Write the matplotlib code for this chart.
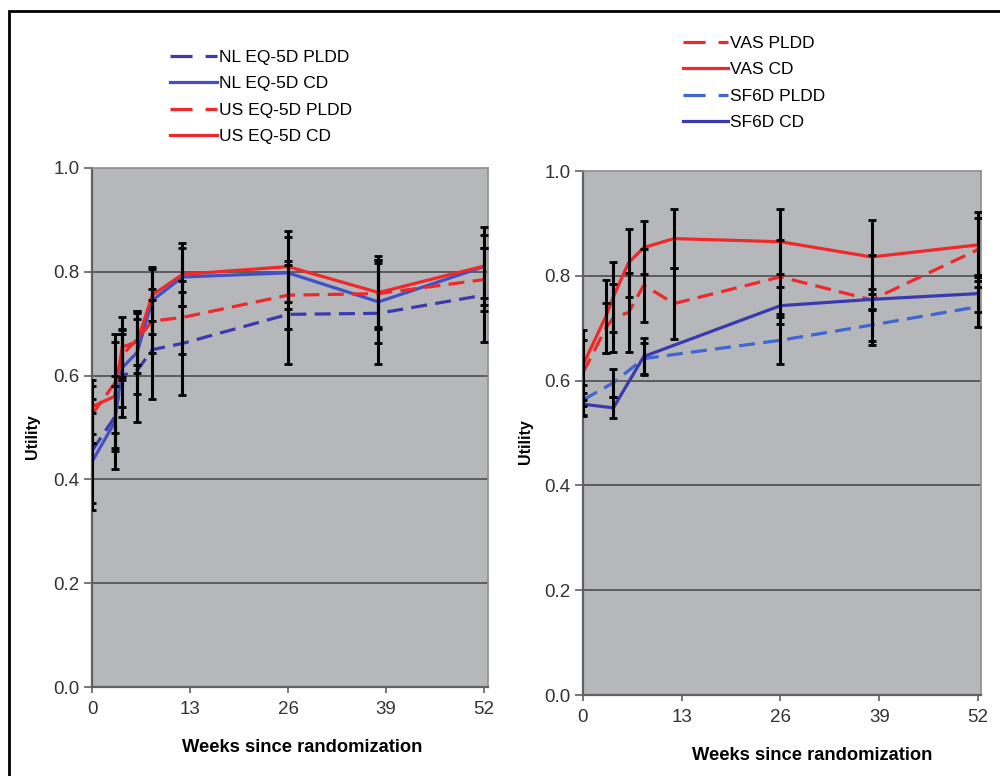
import matplotlib
matplotlib.use("Agg")
import matplotlib.pyplot as plt
from matplotlib.lines import Line2D
from matplotlib.patches import Rectangle

plt.rcParams["font.family"] = ["Liberation Sans", "DejaVu Sans"]

# weeks since randomization
weeks = [0, 3, 4, 6, 8, 12, 26, 38, 52]
sf6d_weeks = [0, 4, 8, 26, 38, 52]

# left panel: EQ-5D (NL / US tariffs)
nl_pldd = [0.455, 0.52, 0.60, 0.61, 0.65, 0.662, 0.718, 0.72, 0.755]
nl_pldd_err = [0.10, 0.06, 0.08, 0.10, 0.095, 0.10, 0.095, 0.097, 0.09]
nl_cd = [0.434, 0.51, 0.615, 0.645, 0.745, 0.79, 0.798, 0.742, 0.81]
nl_cd_err = [0.093, 0.09, 0.075, 0.08, 0.065, 0.055, 0.07, 0.08, 0.06]
us_pldd = [0.525, 0.585, 0.64, 0.67, 0.705, 0.712, 0.755, 0.758, 0.785]
us_pldd_err = [0.055, 0.095, 0.048, 0.05, 0.062, 0.07, 0.065, 0.065, 0.06]
us_cd = [0.54, 0.56, 0.655, 0.665, 0.755, 0.795, 0.81, 0.76, 0.811]
us_cd_err = [0.052, 0.105, 0.058, 0.06, 0.05, 0.06, 0.068, 0.07, 0.075]

# right panel: VAS and SF6D
vas_pldd = [0.615, 0.70, 0.72, 0.73, 0.782, 0.747, 0.798, 0.754, 0.85]
vas_pldd_err = [0.063, 0.048, 0.065, 0.075, 0.07, 0.068, 0.07, 0.086, 0.06]
vas_cd = [0.63, 0.722, 0.76, 0.825, 0.854, 0.871, 0.865, 0.836, 0.859]
vas_cd_err = [0.067, 0.07, 0.067, 0.065, 0.051, 0.056, 0.062, 0.07, 0.062]
sf6d_pldd = [0.563, 0.596, 0.642, 0.677, 0.706, 0.741]
sf6d_pldd_err = [0.028, 0.027, 0.03, 0.045, 0.03, 0.038]
sf6d_cd = [0.555, 0.548, 0.646, 0.743, 0.755, 0.766]
sf6d_cd_err = [0.022, 0.02, 0.035, 0.035, 0.02, 0.035]

xticks = [0, 13, 26, 39, 52]
yticks = [0.0, 0.2, 0.4, 0.6, 0.8, 1.0]

RED = "#f0282a"
BLUE = "#4150c4"
DBLUE = "#3a3aae"
LBLUE = "#3f66d2"
BG = "#b5b7ba"
LW = 2.3
DASH = (5.0, 2.6)


def style_axes(ax, xmax):
    ax.set_facecolor(BG)
    ax.set_xlim(0, xmax)
    ax.set_ylim(0, 1.0)
    ax.set_xticks(xticks)
    ax.set_yticks(yticks)
    ax.set_yticklabels([f"{v:.1f}" for v in yticks])
    for v in yticks[1:-1]:
        ax.axhline(v, color="#5c5c5c", lw=1.4, zorder=1)
    for s in ["top", "right"]:
        ax.spines[s].set_color("#8e8e8e")
        ax.spines[s].set_linewidth(1.2)
    for s in ["left", "bottom"]:
        ax.spines[s].set_color("#606060")
        ax.spines[s].set_linewidth(1.6)
    ax.tick_params(axis="y", length=6, width=1.2, color="#606060",
                   labelsize=13.5, labelcolor="#333333", pad=3)
    ax.tick_params(axis="x", length=4, width=1.2, color="#606060",
                   labelsize=13.5, labelcolor="#333333", pad=6)


def series(ax, x, y, err, color, dashed):
    ax.errorbar(x, y, yerr=err, fmt="none", ecolor="black", elinewidth=2.2,
                capsize=2.6, capthick=2.0, zorder=4)
    ln, = ax.plot(x, y, color=color, lw=LW, zorder=3)
    if dashed:
        ln.set_dashes(DASH)


fig = plt.figure(figsize=(10, 7.76), dpi=100)

# outer frame
fig.patches.append(Rectangle((0.009, -0.05), 1.2, 1.05 - 11 / 776,
                             transform=fig.transFigure, fill=False,
                             edgecolor="black", lw=2.0))

ax1 = fig.add_axes([0.092, 1 - 687 / 776, 0.396, 519 / 776])
ax2 = fig.add_axes([0.583, 1 - 695 / 776, 0.398, 524 / 776])

style_axes(ax1, 52.53)
style_axes(ax2, 52.4)

series(ax1, weeks, nl_pldd, nl_pldd_err, DBLUE, True)
series(ax1, weeks, nl_cd, nl_cd_err, BLUE, False)
series(ax1, weeks, us_pldd, us_pldd_err, RED, True)
series(ax1, weeks, us_cd, us_cd_err, RED, False)

series(ax2, weeks, vas_pldd, vas_pldd_err, RED, True)
series(ax2, weeks, vas_cd, vas_cd_err, RED, False)
series(ax2, sf6d_weeks, sf6d_pldd, sf6d_pldd_err, LBLUE, True)
series(ax2, sf6d_weeks, sf6d_cd, sf6d_cd_err, DBLUE, False)

for ax, lx, ly, xx, xy in [(ax1, -0.131, 0.482, 0.53, -0.10),
                           (ax2, -0.126, 0.483, 0.575, -0.099)]:
    ax.set_ylabel("Utility", fontsize=11.5, fontweight="bold")
    ax.yaxis.set_label_coords(lx, ly)
    ax.set_xlabel("Weeks since randomization", fontsize=13.2, fontweight="bold")
    ax.xaxis.set_label_coords(xx, xy)


def handle(color, dashed):
    h = Line2D([], [], color=color, lw=LW)
    if dashed:
        h.set_dashes((6.9, 4.1))
    return h


leg1 = fig.legend(
    [handle(DBLUE, True), handle(BLUE, False), handle(RED, True), handle(RED, False)],
    ["NL EQ-5D PLDD", "NL EQ-5D CD", "US EQ-5D PLDD", "US EQ-5D CD"],
    loc="upper left", bbox_to_anchor=(0.170, 1 - 50 / 776), frameon=False,
    fontsize=12.5, handlelength=2.7, handletextpad=0.1, labelspacing=0.64,
    borderpad=0, borderaxespad=0)

leg2 = fig.legend(
    [handle(RED, True), handle(RED, False), handle(LBLUE, True), handle(DBLUE, False)],
    ["VAS PLDD", "VAS CD", "SF6D PLDD", "SF6D CD"],
    loc="upper left", bbox_to_anchor=(0.683, 1 - 36 / 776), frameon=False,
    fontsize=12.5, handlelength=2.6, handletextpad=0.1, labelspacing=0.64,
    borderpad=0, borderaxespad=0)

fig.savefig("out.png", dpi=100)
